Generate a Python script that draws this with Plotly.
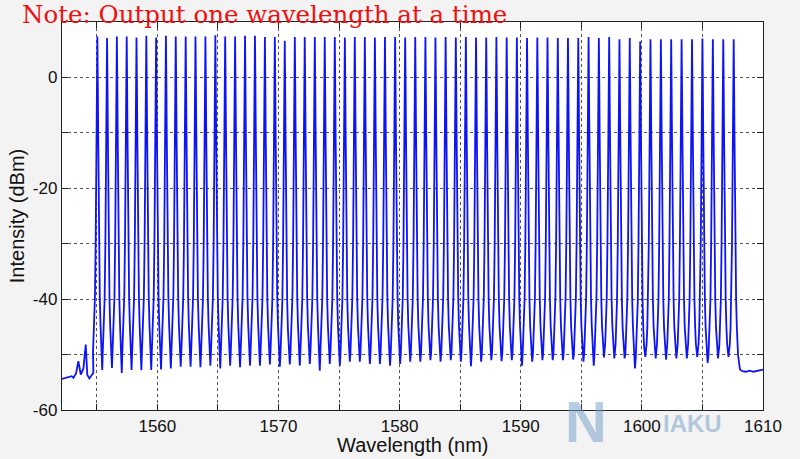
import plotly.graph_objects as go

# ---- data ----
# channel peak wavelengths (nm), 100 GHz grid
peak_wl = [1555.05, 1555.85, 1556.66, 1557.47, 1558.28, 1559.09, 1559.90, 1560.71,
           1561.52, 1562.34, 1563.15, 1563.97, 1564.79, 1565.60, 1566.42, 1567.24,
           1568.06, 1568.88, 1569.70, 1570.52, 1571.35, 1572.17, 1573.00, 1573.82,
           1574.65, 1575.48, 1576.30, 1577.13, 1577.96, 1578.79, 1579.63, 1580.46,
           1581.29, 1582.13, 1582.96, 1583.80, 1584.64, 1585.47, 1586.31, 1587.15,
           1587.99, 1588.84, 1589.68, 1590.52, 1591.37, 1592.21, 1593.06, 1593.90,
           1594.75, 1595.60, 1596.45, 1597.30, 1598.15, 1599.00, 1599.86, 1600.71,
           1601.57, 1602.42, 1603.28, 1604.14, 1605.00, 1605.86, 1606.72, 1607.58]
# channel peak powers (dBm)
peak_db = [7.4, 7.1, 7.4, 7.4, 7.2, 7.5, 7.2, 7.5, 7.4, 7.4, 7.4, 7.4, 7.6, 7.4, 7.4, 7.5,
           7.5, 7.3, 7.3, 6.6, 7.3, 7.3, 7.3, 7.3, 7.3, 7.2, 7.3, 7.3, 7.2, 7.3, 7.3, 7.2,
           7.3, 7.3, 7.2, 7.3, 7.2, 7.3, 7.2, 7.2, 7.3, 7.2, 7.2, 7.1, 7.2, 7.2, 7.1, 7.1,
           7.1, 7.3, 7.1, 7.3, 6.9, 7.1, 6.5, 6.9, 6.9, 6.9, 6.9, 6.9, 7.0, 6.9, 6.9, 6.9]
# floor level between neighbouring channels (dBm)
trough_db = [-52.8, -52.4, -53.3, -52.8, -52.8, -52.8, -52.7, -52.5, -52.2, -52.2,
             -52.3, -52.0, -52.5, -52.0, -52.3, -52.0, -52.0, -51.8, -52.2, -51.8, -52.0,
             -51.7, -52.9, -51.7, -52.0, -51.3, -51.3, -51.7, -51.7, -52.0, -51.7,
             -51.3, -51.3, -51.0, -51.3, -51.0, -51.3, -52.1, -51.3, -51.0, -51.2,
             -51.0, -52.0, -51.3, -51.0, -51.0, -51.0, -50.9, -51.3, -52.0,
             -50.5, -50.7, -50.7, -52.5, -50.4, -50.7, -50.9, -50.7, -50.7, -50.4,
             -51.5, -50.7, -50.4]
# spectrum outside the channel band
left_wl = [1552.11, 1552.52, 1552.93, 1553.07, 1553.29, 1553.48, 1553.68, 1553.90,
           1554.09, 1554.22, 1554.39, 1554.59, 1554.72]
left_db = [-54.4, -54.2, -53.9, -54.2, -53.4, -51.2, -53.6, -52.5,
           -48.2, -53.7, -54.3, -53.7, -53.3]
right_wl = [1608.10, 1608.30, 1608.60, 1608.90, 1609.20, 1609.50, 1609.80, 1610.0]
right_db = [-52.7, -53.0, -53.1, -52.9, -53.1, -53.0, -52.8, -52.7]
# channel line-shape: distance from peak (nm) vs drop below peak (dB)
shape_dx = [0.03, 0.065, 0.10, 0.14, 0.20, 0.26, 0.32, 0.36]
shape_drop = [7, 17, 27, 37, 47, 52, 55, 57]

# ---- assemble the trace ----
xs = list(left_wl)
ys = list(left_db)
n = len(peak_wl)
for i in range(n):
    lo = trough_db[i - 1] if i > 0 else left_db[-1]
    hi = trough_db[i] if i < n - 1 else right_db[0]
    for dx, dr in reversed(list(zip(shape_dx, shape_drop))):
        lvl = peak_db[i] - dr
        if lvl > lo + 0.8:
            xs.append(peak_wl[i] - dx)
            ys.append(lvl)
    xs.append(peak_wl[i])
    ys.append(peak_db[i])
    for dx, dr in zip(shape_dx, shape_drop):
        lvl = peak_db[i] - dr
        if lvl > hi + 0.8:
            xs.append(peak_wl[i] + dx)
            ys.append(lvl)
    if i < n - 1:
        xs.append((peak_wl[i] + peak_wl[i + 1]) / 2)
        ys.append(trough_db[i])
xs += right_wl
ys += right_db

x_ticks = [1555, 1560, 1565, 1570, 1575, 1580, 1585, 1590, 1595, 1600, 1605, 1610]
x_labels = ["", "1560", "", "1570", "", "1580", "", "1590", "", "1600", "", "1610"]
y_ticks = [-60, -50, -40, -30, -20, -10, 0]
y_labels = ["-60", "", "-40", "", "-20", "", "0"]

fig = go.Figure()
fig.add_trace(go.Scatter(x=xs, y=ys, mode="lines",
                         line=dict(color="#0f14f5", width=1.8), hoverinfo="skip"))

axis_common = dict(showline=True, linecolor="#222222", linewidth=1.3, mirror="ticks",
                   ticks="inside", ticklen=6, tickcolor="#222222", tickwidth=1.3,
                   showgrid=True, gridcolor="#555555", griddash="dot", gridwidth=1,
                   zeroline=False, automargin=False,
                   tickfont=dict(family="Liberation Sans, Arial, sans-serif", size=17, color="#111111"))

fig.update_layout(
    width=800, height=459,
    margin=dict(l=62, r=37, t=22, b=49),
    paper_bgcolor="#f3f3f3", plot_bgcolor="#ffffff",
    showlegend=False,
    xaxis=dict(range=[1552.13, 1610], tickvals=x_ticks, ticktext=x_labels, **axis_common),
    yaxis=dict(range=[-60, 10], tickvals=y_ticks, ticktext=y_labels,
               title=dict(text="Intensity (dBm)", standoff=2,
                          font=dict(family="Liberation Sans, Arial, sans-serif", size=20, color="#111111")),
               **axis_common),
)

fig.add_annotation(text="Wavelength (nm)", xref="paper", yref="paper",
                   x=0.5, y=-0.089, xanchor="center", yanchor="middle", showarrow=False,
                   font=dict(family="Liberation Sans, Arial, sans-serif", size=20, color="#111111"))

fig.add_annotation(text="Note: Output one wavelength at a time", xref="paper", yref="paper",
                   x=-0.06, y=1.062, xanchor="left", yanchor="top", showarrow=False,
                   font=dict(family="DejaVu Serif, serif", size=24.5, color="#ee1111"))

# watermark logo text
fig.add_annotation(text="<b>N</b>", xref="paper", yref="paper", x=0.748, y=-0.03,
                   xanchor="center", yanchor="middle", showarrow=False,
                   font=dict(family="Liberation Sans, Arial", size=58, color="rgba(110,155,200,0.5)"))
fig.add_annotation(text="<b>IAKU</b>", xref="paper", yref="paper", x=0.9, y=-0.034,
                   xanchor="center", yanchor="middle", showarrow=False,
                   font=dict(family="Liberation Sans, Arial", size=24, color="rgba(110,155,200,0.5)"))

fig.write_html("out.html", config={"displayModeBar": False},
               post_script="document.body.style.margin='0';document.body.style.overflow='hidden';")
